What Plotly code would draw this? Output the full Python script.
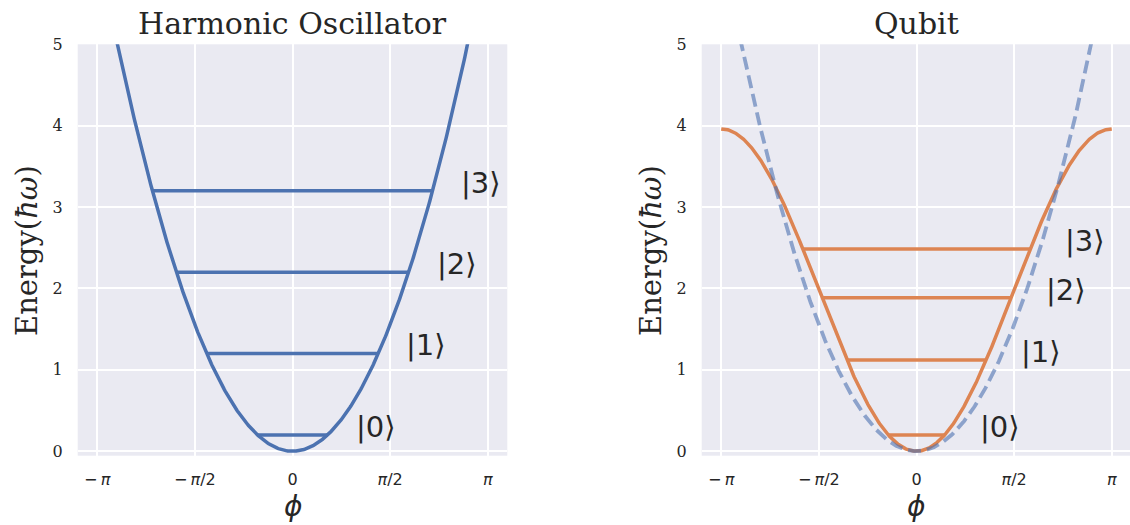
import numpy as np
import plotly.graph_objects as go

# Model parameters (energies in units of hbar*omega)
harmonic_k = 0.63          # E = k * phi^2
qubit_amp = 1.98           # E = A * (1 - cos phi)

harmonic_levels = [0.2, 1.2, 2.2, 3.2]
qubit_levels = [0.2, 1.12, 1.885, 2.485]
level_labels = ["|0\u27e9", "|1\u27e9", "|2\u27e9", "|3\u27e9"]

x_tick_vals = [-np.pi, -np.pi / 2, 0, np.pi / 2, np.pi]
x_tick_text = ["\u2212\u2009<i>\u03c0</i>", "\u2212\u2009<i>\u03c0</i>/2", "0",
               "<i>\u03c0</i>/2", "<i>\u03c0</i>"]
y_tick_vals = [0, 1, 2, 3, 4, 5]

BLUE = "#4C72B0"
ORANGE = "#DD8452"
BG = "#EAEAF2"
TEXT = "#262626"

W, H = 1130, 525
LW = 3.5
phi = np.linspace(-np.pi, np.pi, 600)
E_harm = harmonic_k * phi ** 2
E_qubit = qubit_amp * (1 - np.cos(phi))

fig = go.Figure()

# Left panel: harmonic oscillator
fig.add_trace(go.Scatter(x=phi, y=E_harm, mode="lines", line=dict(color=BLUE, width=LW),
                         xaxis="x", yaxis="y", showlegend=False, hoverinfo="skip"))
for E in harmonic_levels:
    p = np.sqrt(E / harmonic_k)
    fig.add_trace(go.Scatter(x=[-p, p], y=[E, E], mode="lines", line=dict(color=BLUE, width=LW),
                             xaxis="x", yaxis="y", showlegend=False, hoverinfo="skip"))

# Right panel: qubit (cosine potential) with harmonic approximation dashed
fig.add_trace(go.Scatter(x=phi, y=E_qubit, mode="lines", line=dict(color=ORANGE, width=LW),
                         xaxis="x2", yaxis="y2", showlegend=False, hoverinfo="skip"))
for E in qubit_levels:
    p = np.arccos(1 - E / qubit_amp)
    fig.add_trace(go.Scatter(x=[-p, p], y=[E, E], mode="lines", line=dict(color=ORANGE, width=LW),
                             xaxis="x2", yaxis="y2", showlegend=False, hoverinfo="skip"))
fig.add_trace(go.Scatter(x=phi, y=E_harm, mode="lines",
                         line=dict(color="rgba(76,114,176,0.6)", width=3.8, dash="13px,6px"),
                         xaxis="x2", yaxis="y2", showlegend=False, hoverinfo="skip"))

annotations = []
label_font = dict(family="DejaVu Sans", size=29, color=TEXT)
for E, lab in zip(harmonic_levels, level_labels):
    p = np.sqrt(E / harmonic_k)
    annotations.append(dict(x=p + 0.42, y=E + 0.1, xref="x", yref="y", text=lab, showarrow=False,
                            xanchor="left", yanchor="middle", font=label_font))
for E, lab in zip(qubit_levels, level_labels):
    p = np.arccos(1 - E / qubit_amp)
    annotations.append(dict(x=p + 0.53, y=E + 0.1, xref="x2", yref="y2", text=lab, showarrow=False,
                            xanchor="left", yanchor="middle", font=label_font))

title_font = dict(family="DejaVu Serif", size=30, color=TEXT)
axis_font = dict(family="DejaVu Serif", size=29, color=TEXT)
phi_font = dict(family="DejaVu Sans", size=28, color=TEXT)
annotations += [
    dict(x=292.7 / W, y=1 - 24 / H, xref="paper", yref="paper", text="Harmonic Oscillator",
         showarrow=False, xanchor="center", yanchor="middle", font=title_font),
    dict(x=916.3 / W, y=1 - 24 / H, xref="paper", yref="paper", text="Qubit",
         showarrow=False, xanchor="center", yanchor="middle", font=title_font),
    dict(x=292.7 / W, y=0, xref="paper", yref="paper", text="<i>\u03d5</i>",
         showarrow=False, xanchor="center", yanchor="bottom", font=phi_font),
    dict(x=916.3 / W, y=0, xref="paper", yref="paper", text="<i>\u03d5</i>",
         showarrow=False, xanchor="center", yanchor="bottom", font=phi_font),
    dict(x=27 / W, y=1 - 251 / H, xref="paper", yref="paper", text="Energy(<i>\u0127\u03c9</i>)",
         showarrow=False, xanchor="center", yanchor="middle", textangle=-90, font=axis_font),
    dict(x=651 / W, y=1 - 251 / H, xref="paper", yref="paper", text="Energy(<i>\u0127\u03c9</i>)",
         showarrow=False, xanchor="center", yanchor="middle", textangle=-90, font=axis_font),
]

x_lo = -1.1 * np.pi
x_hi = 1.1 * np.pi
left_dom = [77.7 / W, 507.3 / W]
right_dom = [701.7 / W, 1.0]
right_hi = x_lo + (x_hi - x_lo) * (W - 701.7) / (507.3 - 77.7)
y_dom = [1 - 455.7 / H, 1 - 44.3 / H]
y_range = [-0.055, 5]

xaxis_common = dict(tickvals=x_tick_vals, ticktext=x_tick_text, showgrid=True, gridcolor="white",
                    gridwidth=1.5, zeroline=False, showline=False, ticks="", ticklabelstandoff=12,
                    tickfont=dict(family="DejaVu Sans", size=16, color=TEXT), fixedrange=True,
                    automargin=False)
yaxis_common = dict(tickvals=y_tick_vals, range=y_range, showgrid=True, gridcolor="white",
                    gridwidth=1.5, zeroline=False, showline=False, ticks="", ticklabelstandoff=14,
                    tickfont=dict(family="DejaVu Serif", size=16, color=TEXT), domain=y_dom,
                    fixedrange=True, automargin=False)

fig.update_layout(
    width=W, height=H,
    margin=dict(l=0, r=0, t=0, b=0, pad=0),
    paper_bgcolor="white",
    plot_bgcolor=BG,
    xaxis=dict(domain=left_dom, range=[x_lo, x_hi], anchor="y", **xaxis_common),
    yaxis=dict(anchor="x", **yaxis_common),
    xaxis2=dict(domain=right_dom, range=[x_lo, right_hi], anchor="y2", **xaxis_common),
    yaxis2=dict(anchor="x2", **yaxis_common),
    annotations=annotations,
    showlegend=False,
)

fig.write_html("out.html")
